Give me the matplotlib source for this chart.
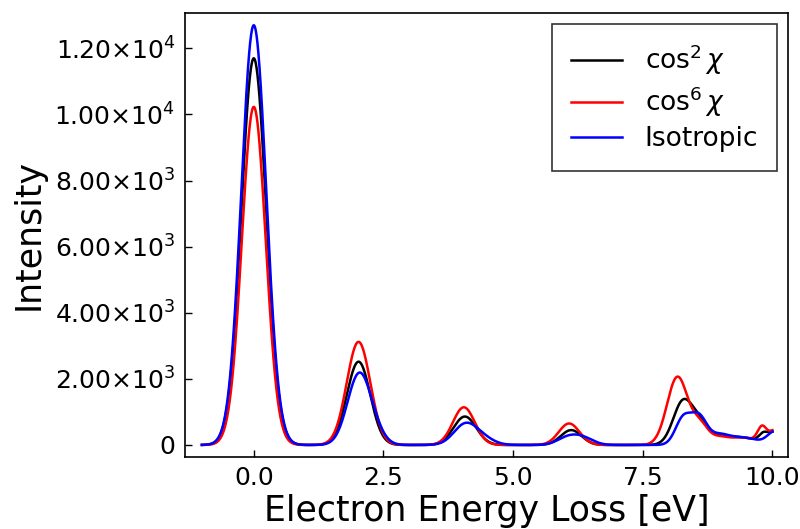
import numpy as np
import matplotlib
matplotlib.use("Agg")
import matplotlib.pyplot as plt
from matplotlib.ticker import FuncFormatter

# Peak data (transition energy [eV], intensity, broadening sigma [eV])
cos2_energy = [0.00, 2.02, 4.07, 6.12, 8.28, 8.60, 9.00, 9.40, 9.65, 9.82, 10.05]
cos2_height = [11700, 2520, 860, 450, 1330, 500, 300, 150, 120, 200, 400]
cos2_sigma = [0.24, 0.225, 0.22, 0.20, 0.19, 0.15, 0.22, 0.15, 0.15, 0.08, 0.15]

cos6_energy = [0.00, 2.02, 4.05, 6.08, 8.17, 8.60, 9.00, 9.40, 9.65, 9.80, 10.05]
cos6_height = [10230, 3120, 1140, 650, 2060, 550, 250, 150, 120, 460, 450]
cos6_sigma = [0.23, 0.227, 0.21, 0.20, 0.20, 0.15, 0.22, 0.15, 0.15, 0.085, 0.12]

iso_energy = [0.00, 2.02, 2.30, 4.07, 4.40, 6.05, 6.35, 8.28, 8.58, 9.00, 9.40, 9.65, 10.05]
iso_height = [12700, 2050, 350, 600, 200, 220, 200, 800, 800, 330, 150, 120, 420]
iso_sigma = [0.24, 0.22, 0.20, 0.22, 0.22, 0.20, 0.20, 0.15, 0.15, 0.22, 0.15, 0.15, 0.15]

energy_min, energy_max = -1.0, 10.0
y_ticks = [0, 2000, 4000, 6000, 8000, 10000, 12000]
x_ticks = [0.0, 2.5, 5.0, 7.5, 10.0]

series = [
    (r"$\cos^2\chi$", "black", cos2_energy, cos2_height, cos2_sigma),
    (r"$\cos^6\chi$", "red", cos6_energy, cos6_height, cos6_sigma),
    ("Isotropic", "blue", iso_energy, iso_height, iso_sigma),
]

E = np.linspace(energy_min, energy_max, 2201)


def broadened(e0, h, s):
    spec = np.zeros_like(E)
    for c, a, w in zip(e0, h, s):
        spec += a * np.exp(-((E - c) ** 2) / (2 * w ** 2))
    return spec


fig = plt.figure(figsize=(8.0, 5.29), dpi=100)
ax = fig.add_axes([0.231, 0.137, 0.754, 0.839])

for label, color, e0, h, s in series:
    ax.plot(E, broadened(e0, h, s), color=color, lw=1.8, label=label)

ax.set_xlim(-1.33, 10.30)
ax.set_ylim(-350, 13080)
ax.set_xticks(x_ticks)
ax.set_yticks(y_ticks)


def yfmt(v, pos):
    if v == 0:
        return "0"
    exp = int(np.floor(np.log10(abs(v))))
    man = v / 10 ** exp
    return r"$%.2f{\times}10^{%d}$" % (man, exp)


ax.yaxis.set_major_formatter(FuncFormatter(yfmt))
ax.xaxis.set_major_formatter(FuncFormatter(lambda v, p: "%.1f" % v))
ax.tick_params(direction="in", labelsize=18, length=5, width=1, pad=7)
for sp in ax.spines.values():
    sp.set_linewidth(1.2)

ax.set_xlabel("Electron Energy Loss [eV]", fontsize=25, labelpad=3)
ax.set_ylabel("Intensity", fontsize=25, labelpad=6)

leg = ax.legend(loc="upper right", fontsize=19, frameon=True, fancybox=False,
                edgecolor="black", borderpad=0.7, labelspacing=0.28,
                handlelength=1.95, handletextpad=0.85, borderaxespad=0.43)
leg.get_frame().set_linewidth(1.2)

fig.savefig("out.png", dpi=100)
